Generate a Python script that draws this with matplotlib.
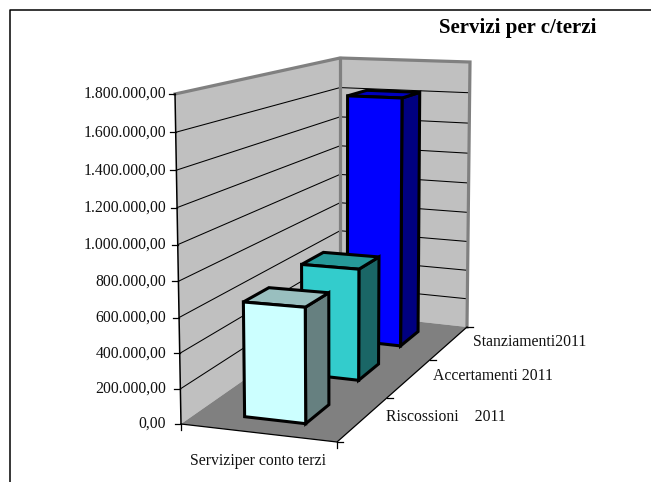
import numpy as np
import matplotlib
matplotlib.use("Agg")
import matplotlib.pyplot as plt
from matplotlib.patches import Polygon

plt.rcParams["font.family"] = ["Liberation Serif", "DejaVu Serif"]

title = "Servizi per c/terzi"
group_label = "Serviziper conto terzi"
series_labels = ["Riscossioni    2011", "Accertamenti 2011", "Stanziamenti2011"]
series_values = [655000, 685000, 1615000]
front_colors = ["#CCFFFF", "#33CCCC", "#0000FF"]
side_colors = ["#668080", "#1A6666", "#000080"]
top_colors = ["#99BFBF", "#269999", "#0000BF"]
axis_ticks = [0, 200000, 400000, 600000, 800000, 1000000, 1200000, 1400000, 1600000, 1800000]
axis_max = 1800000

# corners of the chart box on the page: front-left, front-right, back-right, back-left
floor_corners = [(181, 424), (337, 442), (467, 327), (340, 313)]
ceil_corners = [(175, 94), (337, 99.5), (470, 62), (340, 58)]
height_warp = 1.05  # slight foreshortening along the value axis


def homography(pts):
    # unit square -> quadrilateral
    src = [(0, 0), (1, 0), (1, 1), (0, 1)]
    a, b = [], []
    for (u, v), (x, y) in zip(src, pts):
        a.append([u, v, 1, 0, 0, 0, -u * x, -v * x])
        a.append([0, 0, 0, u, v, 1, -u * y, -v * y])
        b += [x, y]
    h = np.linalg.solve(np.array(a, float), np.array(b, float))
    return np.append(h, 1).reshape(3, 3)


H_floor = homography(floor_corners)
H_ceil = homography(ceil_corners)


def proj(x, y, val):
    # x across, y into the page (both 0..1), val in axis units
    p = np.array([x, y, 1.0])
    f = H_floor @ p
    c = H_ceil @ p
    f = f[:2] / f[2]
    c = c[:2] / c[2]
    t = val / axis_max
    t = t / (t + (1 - t) * height_warp)
    return tuple(f * (1 - t) + c * t)


def face(ax, pts, color, edge=None, lw=0, z=1):
    ax.add_patch(Polygon(pts, closed=True, facecolor=color, edgecolor=edge or color,
                         linewidth=lw, joinstyle="miter", zorder=z))


fig = plt.figure(figsize=(6.51, 4.82), dpi=100)
ax = fig.add_axes([0, 0, 1, 1])
ax.set_xlim(0, 651)
ax.set_ylim(482, 0)
ax.axis("off")

# page frame, only top and left are visible
ax.plot([9.5, 9.5, 651], [482, 9.5, 9.5], color="black", lw=1.1, zorder=1)

# walls and floor
face(ax, [proj(0, 0, 0), proj(0, 1, 0), proj(0, 1, axis_max), proj(0, 0, axis_max)], "#C0C0C0", z=2)
face(ax, [proj(0, 1, 0), proj(1, 1, 0), proj(1, 1, axis_max), proj(0, 1, axis_max)], "#C0C0C0", z=2)
face(ax, [proj(0, 0, 0), proj(1, 0, 0), proj(1, 1, 0), proj(0, 1, 0)], "#808080", z=2)

# gridlines follow the left wall then the back wall
for v in axis_ticks[1:-1]:
    pts = [proj(0, 0, v), proj(0, 1, v), proj(1, 1, v)]
    ax.plot(*zip(*pts), color="black", lw=0.75, zorder=3, solid_joinstyle="miter")

# grey wall outline
edge = [proj(0, 0, axis_max), proj(0, 1, axis_max), proj(1, 1, axis_max), proj(1, 1, 0)]
ax.plot(*zip(*edge), color="#808080", lw=2.3, zorder=4, solid_joinstyle="miter")
ax.plot(*zip(proj(0, 1, 0), proj(0, 1, axis_max)), color="#808080", lw=2.3, zorder=4)

# value axis
ax.plot(*zip(proj(0, 0, 0), proj(0, 0, axis_max)), color="black", lw=1.1, zorder=5)
for v in axis_ticks:
    x, y = proj(0, 0, v)
    ax.plot([x - 6, x], [y, y], color="black", lw=0.9, zorder=5)
    label = f"{v:,.2f}".replace(",", "#").replace(".", ",").replace("#", ".")
    ax.text(166, y, label, ha="right", va="center", fontsize=11.3, color="#111111")

# floor front and side edges with their ticks
ax.plot(*zip(proj(0, 0, 0), proj(1, 0, 0), proj(1, 1, 0)), color="black", lw=0.9, zorder=5)
x, y = proj(0, 0, 0)
ax.plot([x, x], [y, y + 6], color="black", lw=0.9, zorder=5)
x, y = proj(1, 0, 0)
ax.plot([x, x], [y, y + 6], color="black", lw=0.9, zorder=5)
for d in [0, 1 / 3, 2 / 3, 1]:
    x, y = proj(1, d, 0)
    ax.plot([x, x + 6], [y, y], color="black", lw=0.9, zorder=5)

# bars, back to front
n = len(series_values)
x0, x1 = 0.30, 0.70
half = 0.073
depth_centers = [1 / 6, 0.515, 5 / 6]
for i in reversed(range(n)):
    v = series_values[i]
    y0, y1 = depth_centers[i] - half, depth_centers[i] + half
    z = 10 + (n - i)
    face(ax, [proj(x1, y0, 0), proj(x1, y1, 0), proj(x1, y1, v), proj(x1, y0, v)],
         side_colors[i], "black", 2.2, z)
    face(ax, [proj(x0, y0, v), proj(x1, y0, v), proj(x1, y1, v), proj(x0, y1, v)],
         top_colors[i], "black", 2.2, z)
    face(ax, [proj(x0, y0, 0), proj(x1, y0, 0), proj(x1, y0, v), proj(x0, y0, v)],
         front_colors[i], "black", 2.2, z)

ax.text(258, 461, group_label, ha="center", va="center", fontsize=11.3, color="#111111")
label_pos = [(446, 417), (493, 376), (530, 342)]
for lab, (lx, ly) in zip(series_labels, label_pos):
    ax.text(lx, ly, lab, ha="center", va="center", fontsize=11.3, color="#111111")

ax.text(518, 28, title, ha="center", va="center", fontsize=15, fontweight="bold", color="black")

fig.savefig("out.png", dpi=100)
